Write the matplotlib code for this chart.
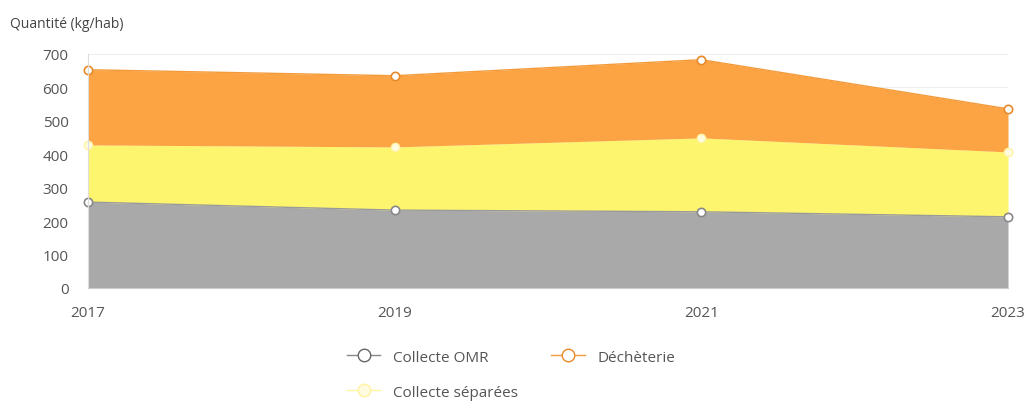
import matplotlib.pyplot as plt
from matplotlib.lines import Line2D
import numpy as np

years = [2017, 2019, 2021, 2023]
omr = [257, 233, 228, 213]
separees = [171, 189, 221, 194]
decheterie = [225, 213, 234, 129]

c_omr = '#a9a9a9'
c_sep = '#fdf56e'
c_dech = '#fca443'

plt.rcParams['font.family'] = ['Open Sans', 'DejaVu Sans']

fig = plt.figure(figsize=(10.36, 4.06), dpi=100)
ax = fig.add_axes([88 / 1036, 1 - 289 / 406, 920 / 1036, 234 / 406])

x = np.array(years)
s1 = np.array(omr)
s2 = s1 + np.array(separees)
s3 = s2 + np.array(decheterie)

ax.fill_between(x, 0, s1, color=c_omr, lw=0)
ax.fill_between(x, s1, s2, color=c_sep, lw=0)
ax.fill_between(x, s2, s3, color=c_dech, lw=0)
ax.plot(x, s1, color='#9a9a9a', lw=1)
ax.plot(x, s3, color='#f39a3a', lw=1)

ax.plot(x, s1, 'o', ms=6, mfc='white', mec='#888888', mew=1.2, clip_on=False)
ax.plot(x, s2, 'o', ms=6, mfc='#fffbe0', mec='#fff3a0', mew=1.0, clip_on=False)
ax.plot(x, s3, 'o', ms=6, mfc='white', mec='#e8892a', mew=1.2, clip_on=False)

ax.set_xlim(2017, 2023)
ax.set_ylim(0, 700)
ax.set_xticks(years)
ax.set_yticks(range(0, 701, 100))
ax.grid(axis='y', color='#eeeeee', lw=0.8)
ax.set_axisbelow(True)
for sp in ['top', 'right']:
    ax.spines[sp].set_visible(False)
ax.spines['left'].set_color('#dddddd')
ax.spines['bottom'].set_color('#cccccc')
ax.tick_params(colors='#555555', labelsize=11, length=0)
ax.tick_params(axis='y', pad=14)
ax.tick_params(axis='x', pad=12)

fig.text(10 / 1036, 1 - 25 / 406, 'Quantité (kg/hab)', fontsize=10, color='#444444', va='center')

h1 = Line2D([], [], color='#888888', marker='o', ms=9, mfc='white', mec='#666666', lw=1)
h2 = Line2D([], [], color='#f39a3a', marker='o', ms=9, mfc='white', mec='#e8892a', lw=1)
h3 = Line2D([], [], color='#fff6a0', marker='o', ms=9, mfc='#fffbe0', mec='#fff3a0', lw=1)
fig.legend([h1, h3, h2], ['Collecte OMR', 'Collecte séparées', 'Déchèterie'],
           loc='upper left', bbox_to_anchor=(333 / 1036, 1 - 337 / 406), ncol=2,
           frameon=False, fontsize=11, labelcolor='#555555', handlelength=2.2,
           columnspacing=2.2, labelspacing=1.3)

plt.savefig('out.png', dpi=100)
plt.close()
